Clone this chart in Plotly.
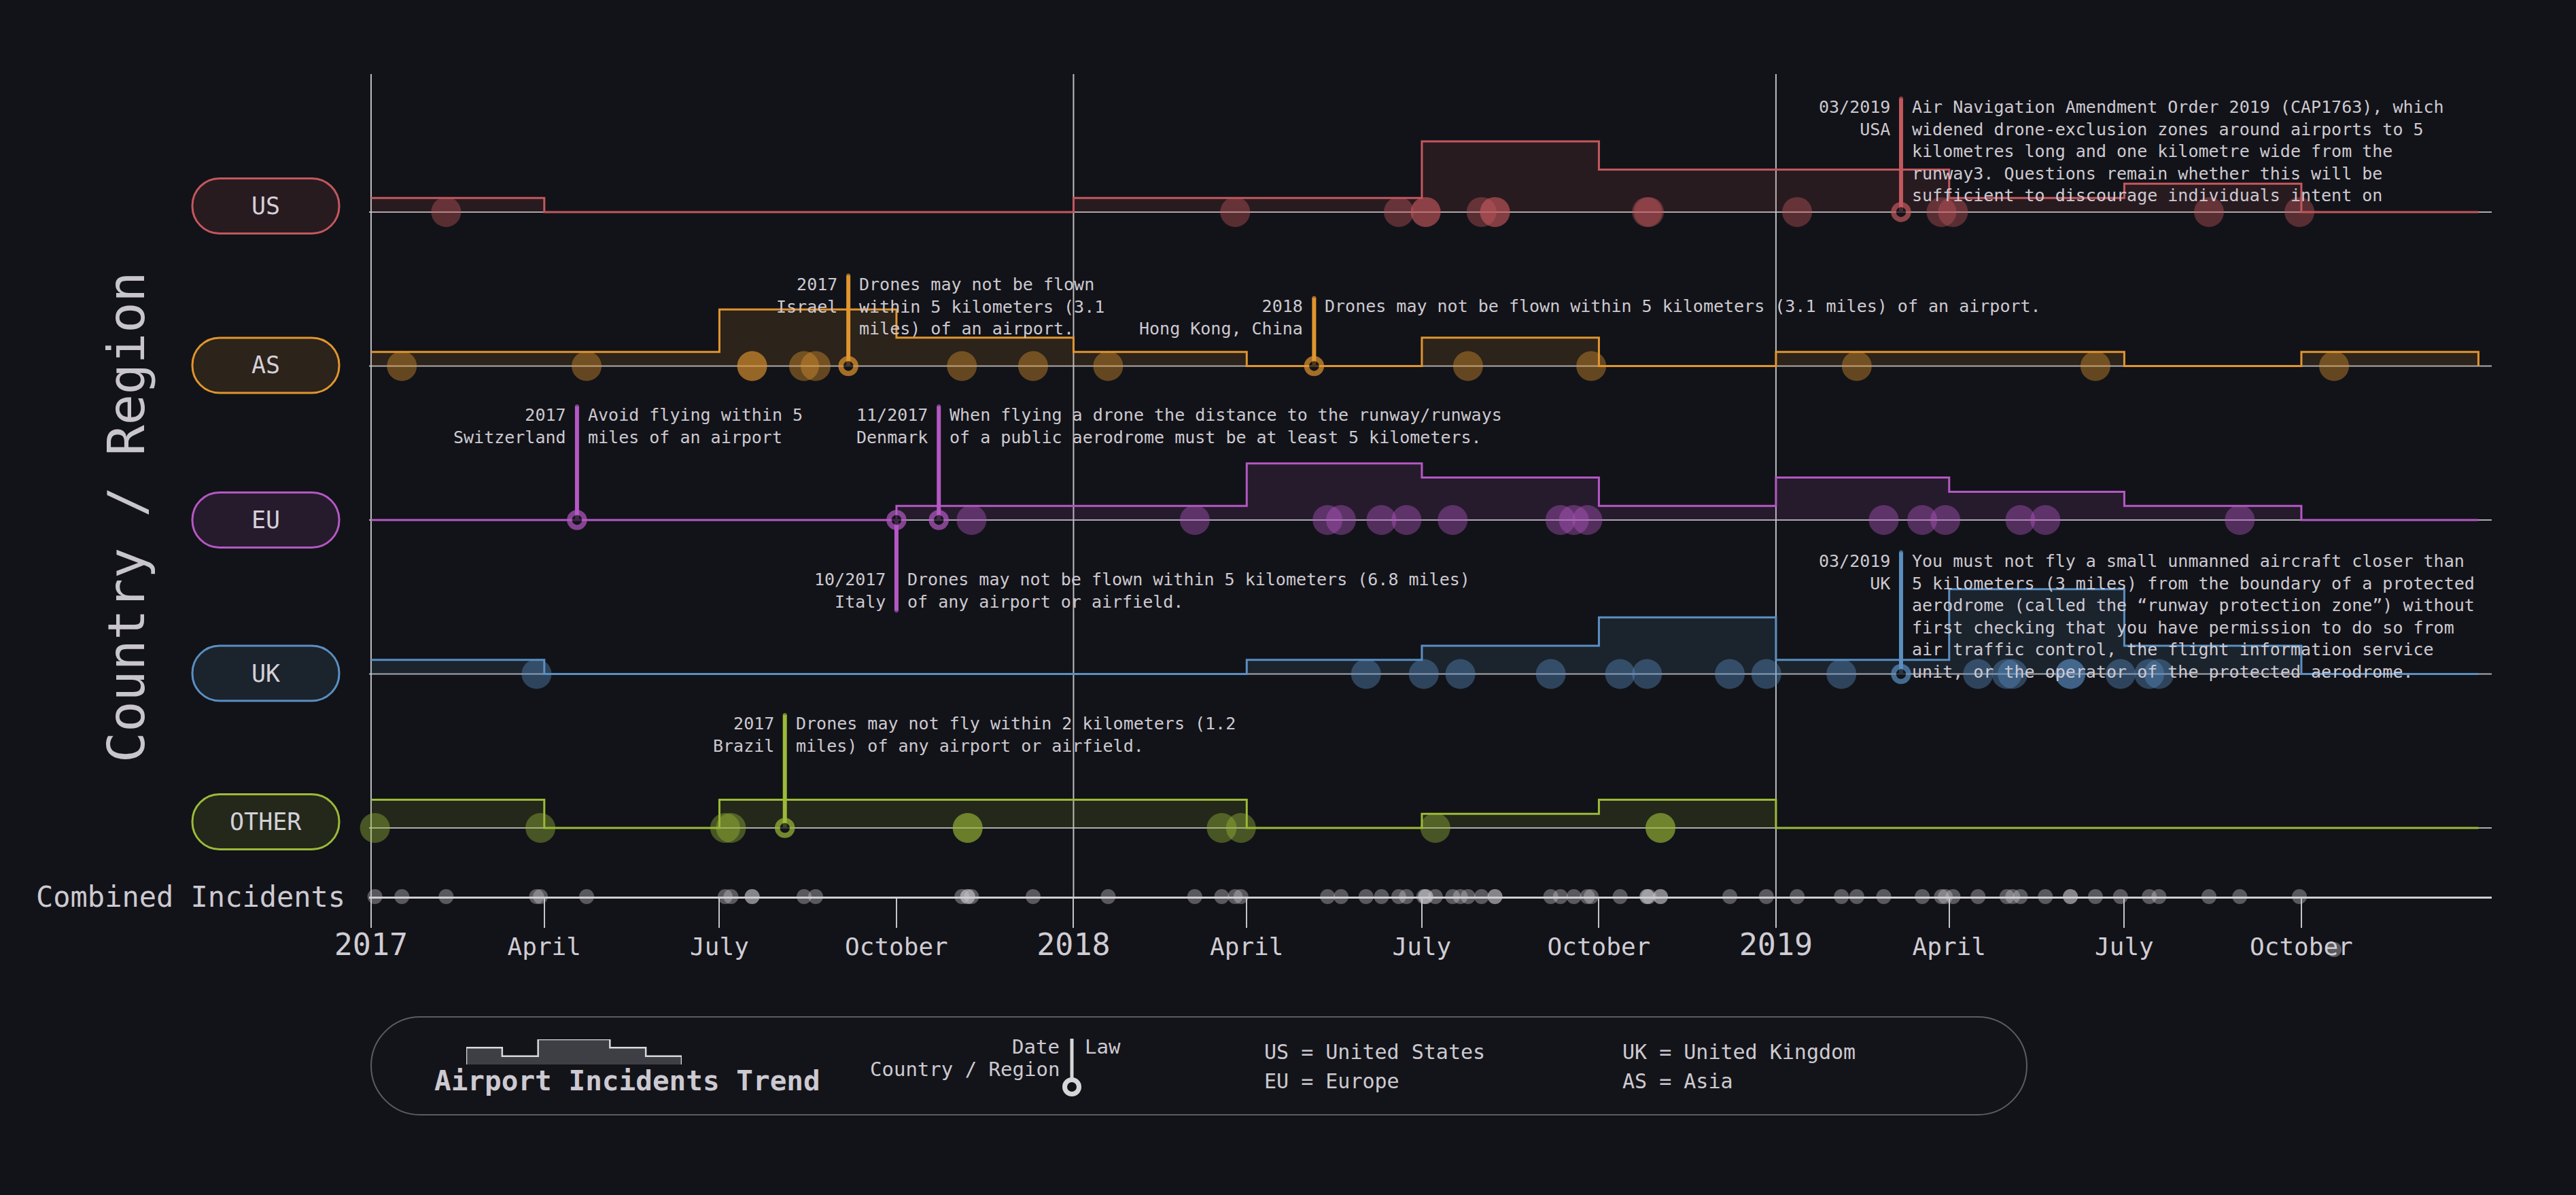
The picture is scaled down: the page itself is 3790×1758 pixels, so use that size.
import plotly.graph_objects as go

# ---------------------------------------------------------------- data
regions = ['US', 'AS', 'EU', 'UK', 'OTHER']
quarter_starts = ['2017-01-01', '2017-04-01', '2017-07-01', '2017-10-01',
                  '2018-01-01', '2018-04-01', '2018-07-01', '2018-10-01',
                  '2019-01-01', '2019-04-01', '2019-07-01', '2019-10-01']
period_end = '2020-01-01'
tick_labels = ['2017', 'April', 'July', 'October',
               '2018', 'April', 'July', 'October',
               '2019', 'April', 'July', 'October']

us_quarterly = [1, 0, 0, 0, 1, 1, 5, 3, 3, 1, 2, 0]
as_quarterly = [1, 1, 4, 2, 1, 0, 2, 0, 1, 1, 0, 1]
eu_quarterly = [0, 0, 0, 1, 1, 4, 3, 1, 3, 2, 1, 0]
uk_quarterly = [1, 0, 0, 0, 0, 1, 2, 4, 1, 6, 2, 0]
other_quarterly = [2, 0, 2, 2, 2, 0, 1, 2, 0, 0, 0, 0]

us_incidents = ['2017-02-09', '2018-03-26', '2018-06-19', '2018-07-03', '2018-07-03',
                '2018-08-01', '2018-08-08', '2018-08-08', '2018-10-26', '2018-10-27',
                '2019-01-12', '2019-03-28', '2019-04-03', '2019-08-14', '2019-09-30']
as_incidents = ['2017-01-17', '2017-04-23', '2017-07-18', '2017-07-18', '2017-08-14',
                '2017-08-20', '2017-11-04', '2017-12-11', '2018-01-19', '2018-07-25',
                '2018-09-27', '2019-02-12', '2019-06-16', '2019-10-18']
eu_incidents = ['2017-11-09', '2018-03-05', '2018-05-13', '2018-05-20', '2018-06-10',
                '2018-06-23', '2018-07-17', '2018-09-11', '2018-09-18', '2018-09-25',
                '2019-02-26', '2019-03-18', '2019-03-30', '2019-05-08', '2019-05-21',
                '2019-08-30']
uk_incidents = ['2017-03-28', '2018-06-02', '2018-07-02', '2018-07-21', '2018-09-06',
                '2018-10-12', '2018-10-26', '2018-12-08', '2018-12-27', '2019-02-04',
                '2019-04-16', '2019-05-01', '2019-05-04', '2019-06-03', '2019-06-03',
                '2019-06-29', '2019-07-14', '2019-07-19']
other_incidents = ['2017-01-03', '2017-03-30', '2017-07-04', '2017-07-07', '2017-11-07',
                   '2017-11-07', '2018-03-19', '2018-03-29', '2018-07-08', '2018-11-02',
                   '2018-11-02']
combined_stray = ['2019-10-18']   # drawn below the combined line in the original

law_dates = ['2019-03-07', '2017-09-06', '2018-05-06', '2017-04-18',
             '2017-10-23', '2017-10-01', '2019-03-07', '2017-08-04']
law_regions = ['US', 'AS', 'AS', 'EU', 'EU', 'EU', 'UK', 'OTHER']
law_when = ['03/2019', '2017', '2018', '2017', '11/2017', '10/2017', '03/2019', '2017']
law_where = ['USA', 'Israel', 'Hong Kong, China', 'Switzerland', 'Denmark', 'Italy', 'UK', 'Brazil']
law_texts = [
    'Air Navigation Amendment Order 2019 (CAP1763), which<br>'
    'widened drone-exclusion zones around airports to 5<br>'
    'kilometres long and one kilometre wide from the<br>'
    'runway3. Questions remain whether this will be<br>'
    'sufficient to discourage individuals intent on',
    'Drones may not be flown<br>within 5 kilometers (3.1<br>miles) of an airport.',
    'Drones may not be flown within 5 kilometers (3.1 miles) of an airport.',
    'Avoid flying within 5<br>miles of an airport',
    'When flying a drone the distance to the runway/runways<br>'
    'of a public aerodrome must be at least 5 kilometers.',
    'Drones may not be flown within 5 kilometers (6.8 miles)<br>'
    'of any airport or airfield.',
    'You must not fly a small unmanned aircraft closer than<br>'
    '5 kilometers (3 miles) from the boundary of a protected<br>'
    'aerodrome (called the \u201crunway protection zone\u201d) without<br>'
    'first checking that you have permission to do so from<br>'
    'air traffic control, the flight information service<br>'
    'unit, or the operator of the protected aerodrome.',
    'Drones may not fly within 2 kilometers (1.2<br>miles) of any airport or airfield.',
]

legend_icon_levels = [2, 1, 3, 3, 2, 1]
legend_abbrev_left = ['US = United States', 'EU = Europe']
legend_abbrev_right = ['UK = United Kingdom', 'AS = Asia']

quarterly = {'US': us_quarterly, 'AS': as_quarterly, 'EU': eu_quarterly,
             'UK': uk_quarterly, 'OTHER': other_quarterly}
incidents = {'US': us_incidents, 'AS': as_incidents, 'EU': eu_incidents,
             'UK': uk_incidents, 'OTHER': other_incidents}

# ---------------------------------------------------------------- style / layout
BG = '#121318'
TEXT = '#cdc9d1'
FONT = 'DejaVu Sans Mono'
W, H = 3790, 1758
ML, MR, MT, MB = 543, 124, 109, 60
PLOT_W = W - ML - MR
PAPER_H = H - MT - MB
AXIS_PX = 1319
Y_DOM0 = (H - MB - AXIS_PX) / PAPER_H

ROW_PX = 226.6
row_y = {'US': 5, 'AS': 4, 'EU': 3, 'UK': 2, 'OTHER': 1}
Y_MIN = 1 - 101 / ROW_PX
Y_MAX = 5 + 203 / ROW_PX
LEVEL = 20.8 / ROW_PX
colors = {'US': '#c2585d', 'AS': '#e0952f', 'EU': '#b458c4',
          'UK': '#5a8fc2', 'OTHER': '#9cba38'}
pill_shift_px = {'US': 9, 'AS': 1, 'EU': 0, 'UK': 1, 'OTHER': 9}
law_stem_px = [167, 133, 100, 167, 167, -133, 179, 166]
X_RANGE = ['2016-12-30 23:00', '2020-01-07 22:00']


def px(X):
    return (X - ML) / PLOT_W


def py(Y):
    return (H - MB - Y) / PAPER_H


def rgba(h, a):
    h = h.lstrip('#')
    return 'rgba(%d,%d,%d,%.3f)' % (int(h[0:2], 16), int(h[2:4], 16), int(h[4:6], 16), a)


def stadium(hw, hh, r, dy=0):
    k = 0.5523 * r
    pts = [
        'M %.2f,%.2f' % (-hw + r, hh + dy),
        'L %.2f,%.2f' % (hw - r, hh + dy),
        'C %.2f,%.2f %.2f,%.2f %.2f,%.2f' % (hw - r + k, hh + dy, hw, hh - r + k + dy, hw, hh - r + dy),
        'L %.2f,%.2f' % (hw, -hh + r + dy),
        'C %.2f,%.2f %.2f,%.2f %.2f,%.2f' % (hw, -hh + r - k + dy, hw - r + k, -hh + dy, hw - r, -hh + dy),
        'L %.2f,%.2f' % (-hw + r, -hh + dy),
        'C %.2f,%.2f %.2f,%.2f %.2f,%.2f' % (-hw + r - k, -hh + dy, -hw, -hh + r - k + dy, -hw, -hh + r + dy),
        'L %.2f,%.2f' % (-hw, hh - r + dy),
        'C %.2f,%.2f %.2f,%.2f %.2f,%.2f' % (-hw, hh - r + k + dy, -hw + r - k, hh + dy, -hw + r, hh + dy),
        'Z',
    ]
    return ' '.join(pts)


fig = go.Figure()

# step areas
for r in regions:
    y0 = row_y[r]
    c = colors[r]
    fig.add_trace(go.Scatter(x=[quarter_starts[0], period_end], y=[y0, y0], mode='lines',
                             line=dict(width=0, color=c), hoverinfo='skip', showlegend=False))
    levels = [y0 + LEVEL * v for v in quarterly[r]] + [y0]
    fig.add_trace(go.Scatter(x=quarter_starts + [period_end], y=levels, mode='lines',
                             line=dict(color=c, width=3, shape='hv'), fill='tonexty',
                             fillcolor=rgba(c, 0.13), hoverinfo='skip', showlegend=False))

# incident dots
for r in regions:
    d = incidents[r]
    fig.add_trace(go.Scatter(x=d, y=[row_y[r]] * len(d), mode='markers',
                             marker=dict(size=44, color=rgba(colors[r], 0.4), line=dict(width=0)),
                             cliponaxis=False, hoverinfo='x', showlegend=False))

# combined incidents
all_dates = []
for r in regions:
    all_dates += incidents[r]
combined = list(all_dates)
for s in combined_stray:
    if s in combined:
        combined.remove(s)
fig.add_trace(go.Scatter(x=combined, y=[Y_MIN] * len(combined), mode='markers',
                         marker=dict(size=22, color='rgba(205,205,210,0.38)', line=dict(width=0)),
                         cliponaxis=False, hoverinfo='x', showlegend=False))
fig.add_trace(go.Scatter(x=combined_stray, y=[0.5] * len(combined_stray), mode='markers',
                         xaxis='x', yaxis='y3',
                         marker=dict(size=22, color='rgba(205,205,210,0.38)', line=dict(width=0)),
                         cliponaxis=False, hoverinfo='x', showlegend=False))

# laws
for i, d in enumerate(law_dates):
    r = law_regions[i]
    c = colors[r]
    y0 = row_y[r]
    top = y0 + law_stem_px[i] / ROW_PX
    fig.add_trace(go.Scatter(x=[d, d], y=[y0, top], mode='lines+markers',
                             line=dict(color=c, width=6),
                             marker=dict(size=[22, 6], color=[BG, c], symbol='circle',
                                         line=dict(color=c, width=[7.5, 0])),
                             cliponaxis=False, hoverinfo='skip', showlegend=False))
    up = law_stem_px[i] > 0
    ya = 'top' if up else 'bottom'
    ys = 4 if up else -4
    fig.add_annotation(x=d, y=top, xref='x', yref='y', text=law_texts[i], showarrow=False,
                       xanchor='left', yanchor=ya, align='left', xshift=14, yshift=ys,
                       font=dict(size=25, color=TEXT, family=FONT))
    fig.add_annotation(x=d, y=top, xref='x', yref='y', text=law_when[i] + '<br>' + law_where[i],
                       showarrow=False, xanchor='right', yanchor=ya, align='right',
                       xshift=-14, yshift=ys, font=dict(size=25, color=TEXT, family=FONT))

shapes = []
# year grid lines
for v, t in zip(quarter_starts, tick_labels):
    if t.isdigit():
        shapes.append(dict(type='line', xref='x', yref='paper', x0=v, x1=v, y0=Y_DOM0, y1=1,
                           line=dict(color='#bdbdc0', width=2), layer='below'))
# row baselines
for r in regions:
    shapes.append(dict(type='line', xref='paper', yref='y', x0=0, x1=1, y0=row_y[r], y1=row_y[r],
                       line=dict(color='rgba(200,200,205,0.85)', width=2), layer='below'))
# region pills
PILL_X = px(391)
for r in regions:
    shapes.append(dict(type='path', xref='paper', yref='y', xsizemode='pixel', ysizemode='pixel',
                       xanchor=PILL_X, yanchor=row_y[r],
                       path=stadium(108, 40.5, 40, pill_shift_px[r]),
                       line=dict(color=colors[r], width=3), fillcolor=rgba(colors[r], 0.13)))
    fig.add_annotation(x=PILL_X, y=row_y[r] + pill_shift_px[r] / ROW_PX, xref='paper', yref='y',
                       text=r, showarrow=False, xanchor='center', yanchor='middle',
                       font=dict(size=35, color='#d4d0d8', family=FONT))

# legend box
shapes.append(dict(type='path', xref='paper', yref='paper', xsizemode='pixel', ysizemode='pixel',
                   xanchor=px(1764), yanchor=py(1568), path=stadium(1218, 72, 72),
                   line=dict(color='#5c5c63', width=2), fillcolor='rgba(255,255,255,0.008)'))
# legend law glyph
shapes.append(dict(type='line', xref='paper', yref='paper', x0=px(1577), x1=px(1577),
                   y0=py(1528), y1=py(1598), line=dict(color='#d6d6d8', width=5)))
shapes.append(dict(type='circle', xref='paper', yref='paper', xsizemode='pixel', ysizemode='pixel',
                   xanchor=px(1577), yanchor=py(1599), x0=-10.5, x1=10.5, y0=-10.5, y1=10.5,
                   line=dict(color='#d6d6d8', width=7), fillcolor=BG))

# legend icon (mini trend)
ix = [0] + list(range(len(legend_icon_levels))) + [len(legend_icon_levels)] * 2
iy = [0] + legend_icon_levels + [legend_icon_levels[-1], 0]
fig.add_trace(go.Scatter(x=ix, y=iy, xaxis='x2', yaxis='y2', mode='lines',
                         line=dict(color='#d9d9dc', width=2.5, shape='hv'), fill='tozeroy',
                         fillcolor='#3d3e44', hoverinfo='skip', showlegend=False))

ann_leg = [
    dict(x=px(923), y=py(1590), text='<b>Airport Incidents Trend</b>', xanchor='center', size=41),
    dict(x=px(1561), y=py(1540), text='Date', xanchor='right', size=29),
    dict(x=px(1561), y=py(1573), text='Country / Region', xanchor='right', size=29),
    dict(x=px(1594), y=py(1540), text='Law', xanchor='left', size=29),
    dict(x=px(1858), y=py(1547), text=legend_abbrev_left[0], xanchor='left', size=30),
    dict(x=px(1858), y=py(1590), text=legend_abbrev_left[1], xanchor='left', size=30),
    dict(x=px(2385), y=py(1547), text=legend_abbrev_right[0], xanchor='left', size=30),
    dict(x=px(2385), y=py(1590), text=legend_abbrev_right[1], xanchor='left', size=30),
]
for a in ann_leg:
    fig.add_annotation(x=a['x'], y=a['y'], xref='paper', yref='paper', text=a['text'], showarrow=False,
                       xanchor=a['xanchor'], yanchor='middle',
                       font=dict(size=a['size'], color=TEXT, family=FONT))

# axis titles
fig.add_annotation(x=px(186), y=py(761), xref='paper', yref='paper', text='Country / Region',
                   textangle=-90, showarrow=False, xanchor='center', yanchor='middle',
                   font=dict(size=75, color='#c8c5cc', family=FONT))
fig.add_annotation(x=px(510), y=Y_MIN, xref='paper', yref='y', text='Combined Incidents',
                   showarrow=False, xanchor='right', yanchor='middle',
                   font=dict(size=42, color=TEXT, family=FONT))

ticktext = ['<span style="font-size:45px">%s</span>' % t if t.isdigit() else t for t in tick_labels]

fig.update_layout(
    width=W, height=H,
    margin=dict(l=ML, r=MR, t=MT, b=MB, pad=0, autoexpand=False),
    paper_bgcolor=BG, plot_bgcolor=BG, showlegend=False,
    font=dict(family=FONT, color=TEXT),
    shapes=shapes,
    xaxis=dict(type='date', range=X_RANGE, domain=[0, 1], anchor='y', showgrid=False, zeroline=False,
               showline=True, linecolor='#cfcfd2', linewidth=3, ticks='outside', ticklen=43,
               tickwidth=2, tickcolor='#c4c4c8', tickvals=quarter_starts, ticktext=ticktext,
               tickangle=0, tickfont=dict(size=36, color='#d0ccd4', family=FONT),
               ticklabelstandoff=-3, fixedrange=True),
    yaxis=dict(range=[Y_MIN, Y_MAX], domain=[Y_DOM0, 1], visible=False, fixedrange=True),
    yaxis3=dict(range=[0, 1], domain=[py(1417), py(1377)], visible=False, anchor='x', fixedrange=True),
    xaxis2=dict(domain=[px(686), px(1003)], range=[0, len(legend_icon_levels)], visible=False,
                anchor='y2', fixedrange=True),
    yaxis2=dict(domain=[py(1566), py(1529)], range=[0, 3], visible=False, anchor='x2', fixedrange=True),
)

fig.write_html('out.html', config={'displayModeBar': False})
